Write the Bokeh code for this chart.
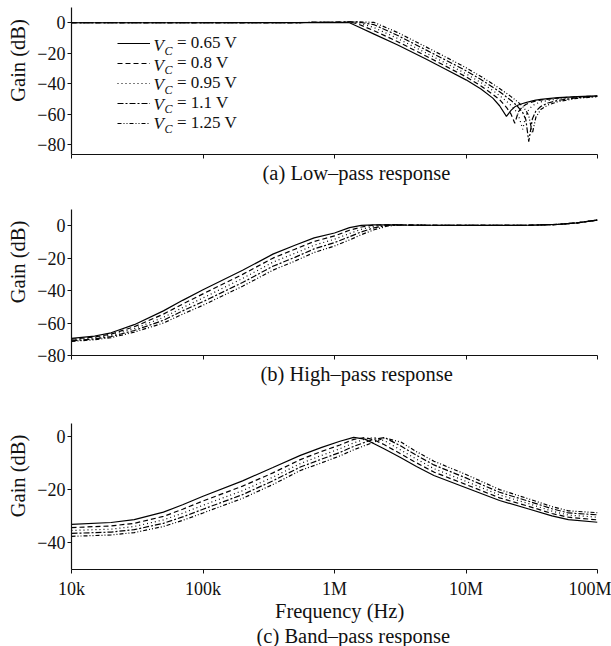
from bokeh.plotting import figure
from bokeh.models import Range1d, FixedTicker, Legend, LegendItem, Label, Title
from bokeh.layouts import column
from bokeh.embed import file_html
from bokeh.resources import INLINE

# ---------------- data ----------------
vc_values = ["0.65", "0.8", "0.95", "1.1", "1.25"]

x_ticks = [1e4, 1e5, 1e6, 1e7, 1e8]
x_tick_labels = ["10k", "100k", "1M", "10M", "100M"]

# (a) low-pass
freq_a = [1e4, 1e5, 5e5, 1e6, 1.3e6, 1.5e6, 2e6, 3e6, 5e6, 7e6, 1e7, 1.3e7, 1.6e7, 1.8e7,
          2.03e7, 2.2e7, 2.35e7, 2.5e7, 2.7e7, 2.85e7, 3.0e7, 3.2e7, 3.4e7, 3.7e7, 4.2e7,
          5e7, 7e7, 1e8]
lp_065 = [0, 0, 0.1, 0.3, 0, -2.5, -7.5, -14.5, -24, -30.5, -37.5, -43.5, -49.5, -54.5,
          -61.5, -57.5, -55.2, -54, -53, -52.4, -51.9, -51.3, -50.8, -50.3, -49.8,
          -49.2, -48.5, -48]
lp_080 = [0, 0, 0.1, 0.3, 0.4, -0.7, -5.3, -12.3, -22, -28.5, -35.5, -41.5, -47, -50.5,
          -55.5, -60, -66, -58.5, -55, -53.7, -52.8, -52, -51.4, -50.8, -50.2,
          -49.5, -48.6, -48.1]
lp_095 = [0, 0, 0.1, 0.3, 0.5, 0.2, -3.2, -10.2, -20, -26.5, -33.5, -39.3, -44.5, -47.8,
          -51.5, -54.3, -57, -60.5, -70, -61, -57, -54.5, -53.2, -52, -51,
          -50, -48.8, -48.2]
lp_110 = [0, 0, 0.1, 0.3, 0.5, 0.5, -1.3, -8.2, -18, -24.5, -31.5, -37.3, -42.3, -45.3,
          -48.7, -51, -53.2, -55.5, -59, -63.5, -78, -63, -58, -55, -52.7,
          -51, -49.2, -48.4]
lp_125 = [0, 0, 0.1, 0.3, 0.5, 0.6, 0.2, -6.3, -16, -22.5, -29.5, -35.3, -40.2, -43.2,
          -46.3, -48.5, -50.4, -52.3, -55, -57.5, -61, -72.5, -62, -57, -54,
          -51.8, -49.6, -48.5]

# (b) high-pass
freq_b = [1e4, 1.5e4, 2e4, 3e4, 5e4, 7e4, 1e5, 2e5, 3.4e5, 5e5, 7e5, 1e6, 1.3e6, 1.6e6, 2e6,
          2.5e6, 3e6, 5e6, 1e7, 2e7, 3e7, 5e7, 7e7, 1e8]
hp_065 = [-69.5, -68, -66, -61, -52.5, -46, -39.5, -27.5, -17.5, -12, -7.5, -4.5, -1.2, 0.2, 0.5,
          0.6, 0.5, 0.3, 0.2, 0.2, 0.3, 0.8, 1.8, 3.5]
hp_080 = [-70, -68.6, -66.8, -62.3, -54.5, -48.3, -42, -30, -20, -14.5, -9.7, -6.3, -2.8, -0.8, 0.4,
          0.6, 0.5, 0.3, 0.2, 0.2, 0.3, 0.8, 1.8, 3.5]
hp_095 = [-70.5, -69.2, -67.5, -63.5, -56.5, -50.5, -44.5, -32.5, -22.5, -17, -12, -8.3, -4.8, -2.2, -0.3,
          0.4, 0.5, 0.3, 0.2, 0.2, 0.3, 0.8, 1.8, 3.5]
hp_110 = [-71, -69.8, -68.3, -64.6, -58.3, -52.5, -46.8, -35, -25, -19.5, -14.3, -10.4, -6.8, -3.8, -1.3,
          0.2, 0.5, 0.3, 0.2, 0.2, 0.3, 0.8, 1.8, 3.5]
hp_125 = [-71.3, -70.3, -69, -65.6, -60, -54.5, -49, -37.3, -27.4, -21.8, -16.5, -12.5, -8.8, -5.5, -2.5,
          -0.3, 0.4, 0.3, 0.2, 0.2, 0.3, 0.8, 1.8, 3.5]

# (c) band-pass
freq_c = [1e4, 2e4, 3e4, 5e4, 7e4, 1e5, 2e5, 3.4e5, 5.5e5, 8e5, 1.1e6, 1.4e6, 1.7e6, 2e6,
          2.4e6, 3.2e6, 4.2e6, 5.7e6, 1e7, 1.8e7, 3e7, 4.5e7, 6e7, 1e8]
bp_065 = [-33, -32.3, -31.2, -28.4, -25.6, -22.4, -16.6, -11.6, -7.0, -4.0, -1.7, -0.2, -0.9, -2.6,
          -4.6, -7.9, -11.2, -14.6, -19.2, -24, -27.2, -29.8, -31.2, -32.2]
bp_080 = [-34.2, -33.6, -32.6, -30, -27.3, -24.2, -18.6, -13.6, -8.6, -5.5, -3.1, -1.0, -0.3, -1.2,
          -3.0, -6.5, -9.8, -13.3, -18.0, -23.0, -26.2, -28.9, -30.3, -31.3]
bp_095 = [-35.3, -34.8, -33.8, -31.3, -28.8, -25.8, -20.3, -15.2, -10.1, -7.0, -4.5, -2.3, -0.9, -0.2,
          -1.5, -5.0, -8.4, -12.0, -16.8, -21.9, -25.2, -28.0, -29.5, -30.3]
bp_110 = [-36.4, -35.9, -35, -32.6, -30.2, -27.3, -21.8, -16.6, -11.4, -8.4, -5.9, -3.6, -2.1, -0.9,
          -0.3, -3.5, -7.0, -10.6, -15.5, -20.9, -24.3, -27.1, -28.7, -29.4]
bp_125 = [-37.5, -37, -36.1, -33.8, -31.5, -28.7, -23.2, -18.0, -12.7, -9.8, -7.2, -4.9, -3.3, -2.0,
          -0.4, -2.0, -5.6, -9.2, -14.2, -19.9, -23.4, -26.3, -27.9, -28.6]

y_ticks_a = [0, -20, -40, -60, -80]
y_ticks_b = [0, -20, -40, -60, -80]
y_ticks_c = [0, -20, -40]

captions = ["(a) Low\u2013pass response", "(b) High\u2013pass response", "(c) Band\u2013pass response"]
x_title = "Frequency (Hz)"
y_title = "Gain (dB)"

# ---------------- style ----------------
FONT = "Liberation Serif"
DASHES = ["solid", "5 3", "1 3", "6 2 2 2", "4 2 1 2 1 2"]
LW = 1.2
INK = "#111111"
NB = "\u00a0"


def minus(v):
    return ("\u2212" + str(abs(v))) if v < 0 else str(v)


def make_fig(height, top, bottom, yr, yticks, show_xlabels, caption, cap_offset,
             cap_standoff, xlabel=None):
    p = figure(width=611, height=height, x_axis_type="log",
               x_range=Range1d(1e4, 1e8), y_range=Range1d(*yr),
               output_backend="svg", toolbar_location=None, title=None,
               min_border_left=71, min_border_right=14,
               min_border_top=top, min_border_bottom=bottom)
    p.outline_line_color = None
    p.grid.visible = False
    p.background_fill_color = "white"
    p.border_fill_color = "white"

    xa = p.xaxis[0]
    xa.ticker = FixedTicker(ticks=x_ticks, minor_ticks=[])
    xa.major_tick_in = 0
    xa.major_tick_out = 4
    xa.minor_tick_in = 0
    xa.minor_tick_out = 0
    xa.axis_line_color = INK
    xa.axis_line_width = 1.2
    xa.major_tick_line_color = INK
    xa.major_label_text_font = FONT
    xa.major_label_text_color = INK
    xa.major_label_text_font_size = "18px"
    if show_xlabels:
        xa.major_label_overrides = {t: l for t, l in zip(x_ticks, x_tick_labels)}
        xa.major_label_standoff = 5
    else:
        xa.major_label_overrides = {t: "" for t in x_ticks}
        xa.major_label_standoff = 0
    if xlabel:
        xa.axis_label = NB * 2 + xlabel
        xa.axis_label_text_font = FONT
        xa.axis_label_text_font_size = "20.5px"
        xa.axis_label_text_font_style = "normal"
        xa.axis_label_text_color = INK
        xa.axis_label_standoff = -2

    ya = p.yaxis[0]
    ya.ticker = FixedTicker(ticks=yticks, minor_ticks=[])
    ya.major_label_overrides = {t: minus(t) for t in yticks}
    ya.major_tick_in = 0
    ya.major_tick_out = 4
    ya.minor_tick_in = 0
    ya.minor_tick_out = 0
    ya.axis_line_color = INK
    ya.axis_line_width = 1.2
    ya.major_tick_line_color = INK
    ya.major_label_text_font = FONT
    ya.major_label_text_font_size = "18px"
    ya.major_label_text_color = INK
    ya.major_label_standoff = 2
    ya.axis_label = NB * 8 + y_title
    ya.axis_label_text_font = FONT
    ya.axis_label_text_font_size = "20.5px"
    ya.axis_label_text_font_style = "normal"
    ya.axis_label_text_color = INK
    ya.axis_label_standoff = 5

    t = Title(text=caption, align="left", text_font=FONT, text_font_size="20.5px",
              text_font_style="normal", text_color=INK, offset=cap_offset,
              standoff=cap_standoff)
    p.add_layout(t, "below")
    return p


def add_lines(p, freq, series):
    rs = []
    for ys, dash in zip(series, DASHES):
        rs.append(p.line(freq, ys, line_color="black", line_width=LW, line_dash=dash))
    return rs


pa = make_fig(195, 7, 41, (-86.5, 10), y_ticks_a, False, captions[0], 191, 2)
ra = add_lines(pa, freq_a, [lp_065, lp_080, lp_095, lp_110, lp_125])

pb = make_fig(198, 14, 38, (-80, 10), y_ticks_b, False, captions[1], 189, 2)
add_lines(pb, freq_b, [hp_065, hp_080, hp_095, hp_110, hp_125])

pc = make_fig(253, 30, 77, (-50, 5), y_ticks_c, True, captions[2], 185, -3, xlabel=x_title)
add_lines(pc, freq_c, [bp_065, bp_080, bp_095, bp_110, bp_125])

# legend in panel (a)
pitch = 19.5
leg_x, leg_y = 46, 21.25
items = [LegendItem(label="= %s V" % v, renderers=[r]) for v, r in zip(vc_values, ra)]
legend = Legend(items=items, location=(leg_x, leg_y), padding=0, margin=0, spacing=0,
                glyph_width=33, glyph_height=18, label_height=18,
                label_standoff=27, label_text_font=FONT, label_text_font_size="17px",
                label_text_color=INK, border_line_alpha=0, background_fill_alpha=0)
pa.add_layout(legend)
box_h = len(vc_values) * pitch
for i, v in enumerate(vc_values):
    cy = leg_y + box_h - (i + 0.5) * pitch
    pa.add_layout(Label(x=leg_x + 36, y=cy, x_units="screen", y_units="screen", text="V",
                        text_font=FONT, text_font_style="italic", text_font_size="17px",
                        text_baseline="middle", text_align="left", text_color=INK))
    pa.add_layout(Label(x=leg_x + 47, y=cy - 5, x_units="screen", y_units="screen", text="C",
                        text_font=FONT, text_font_style="italic", text_font_size="12px",
                        text_baseline="middle", text_align="left", text_color=INK))

layout = column(pa, pb, pc, spacing=0)
open("out.html", "w").write(file_html(layout, INLINE))
